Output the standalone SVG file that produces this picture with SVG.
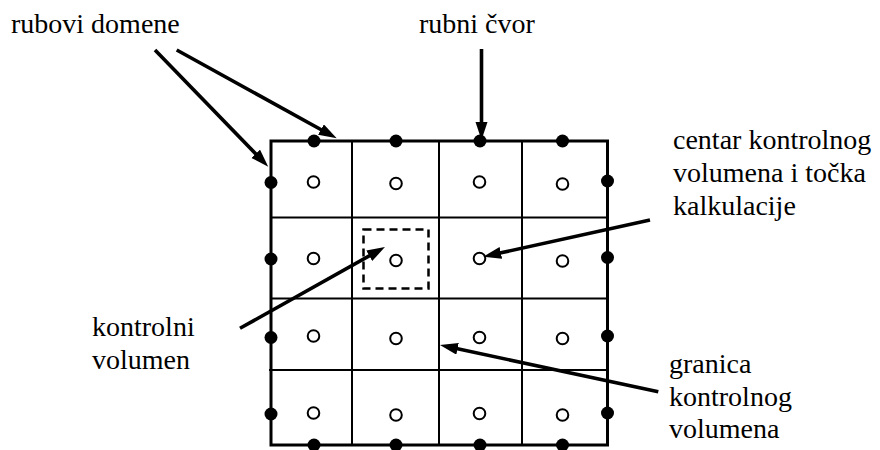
<svg xmlns="http://www.w3.org/2000/svg" width="880" height="450" viewBox="0 0 880 450">
<defs>
<marker id="ah" markerUnits="userSpaceOnUse" markerWidth="20" markerHeight="14" refX="6" refY="6" orient="auto">
<path d="M0,0 L18,6 L0,12 z" fill="#000"/>
</marker>
</defs>
<rect width="880" height="450" fill="#fff"/>
<g id="grid" stroke="#000" fill="none">
<g stroke-width="2">
<line x1="352" y1="141" x2="352" y2="445"/>
<line x1="439" y1="141" x2="439" y2="445"/>
<line x1="522" y1="141" x2="522" y2="445"/>
<line x1="271" y1="217.5" x2="607.5" y2="217.5"/>
<line x1="271" y1="298.5" x2="607.5" y2="298.5"/>
<line x1="269" y1="370" x2="607.5" y2="370"/>
</g>
<rect x="271" y="141" width="336.5" height="304" stroke-width="3"/>
</g>
<g id="control-volume">
<rect x="363.5" y="229.5" width="65" height="59" fill="none" stroke="#000" stroke-width="2.5" stroke-dasharray="8 5"/>
</g>
<g id="boundary-nodes" fill="#000">
<circle cx="314" cy="141" r="6.5"/>
<circle cx="396" cy="141" r="6.5"/>
<circle cx="480" cy="141" r="6.5"/>
<circle cx="562.5" cy="141" r="6.5"/>
<circle cx="314" cy="445" r="6.5"/>
<circle cx="396" cy="445" r="6.5"/>
<circle cx="480" cy="445" r="6.5"/>
<circle cx="562.5" cy="445" r="6.5"/>
<circle cx="271" cy="182.5" r="6.5"/>
<circle cx="271" cy="259" r="6.5"/>
<circle cx="271" cy="337.5" r="6.5"/>
<circle cx="271" cy="414" r="6.5"/>
<circle cx="607.5" cy="181" r="6.5"/>
<circle cx="607.5" cy="257.5" r="6.5"/>
<circle cx="607.5" cy="336" r="6.5"/>
<circle cx="607.5" cy="413" r="6.5"/>
</g>
<g id="cell-centres" fill="#fff" stroke="#000" stroke-width="2">
<circle cx="313.5" cy="182" r="5.8"/>
<circle cx="396" cy="183.5" r="5.8"/>
<circle cx="479.5" cy="182" r="5.8"/>
<circle cx="562.5" cy="184" r="5.8"/>
<circle cx="313.5" cy="258.5" r="5.8"/>
<circle cx="396" cy="260.5" r="5.8"/>
<circle cx="479.5" cy="258.5" r="5.8"/>
<circle cx="562.5" cy="261" r="5.8"/>
<circle cx="313.5" cy="336" r="5.8"/>
<circle cx="396" cy="338.5" r="5.8"/>
<circle cx="479.5" cy="337.5" r="5.8"/>
<circle cx="562.5" cy="338.5" r="5.8"/>
<circle cx="313.5" cy="413" r="5.8"/>
<circle cx="396" cy="415" r="5.8"/>
<circle cx="479.5" cy="413.5" r="5.8"/>
<circle cx="562.5" cy="415" r="5.8"/>
</g>
<g id="connectors" stroke="#000" stroke-width="3.6" fill="none">
<line x1="155" y1="50" x2="259.9" y2="158.1" marker-end="url(#ah)"/>
<line x1="176.7" y1="50" x2="326.2" y2="132.5" marker-end="url(#ah)"/>
<line x1="481.5" y1="49" x2="481.5" y2="128" marker-end="url(#ah)"/>
<line x1="240" y1="328.3" x2="374.5" y2="252.9" marker-end="url(#ah)"/>
<line x1="650" y1="220" x2="495" y2="254.1" marker-end="url(#ah)"/>
<line x1="658.3" y1="391.7" x2="451.7" y2="347.5" marker-end="url(#ah)"/>
</g>
<g id="label-rubovi"><text x="11" y="33" font-family="Liberation Serif" font-size="28" fill="#000">rubovi domene</text></g>
<g id="label-rubni"><text x="419" y="33" font-family="Liberation Serif" font-size="28" fill="#000">rubni čvor</text></g>
<g id="label-centar">
<text x="673" y="149" font-family="Liberation Serif" font-size="28" fill="#000">centar kontrolnog</text>
<text x="673" y="182" font-family="Liberation Serif" font-size="28" fill="#000">volumena i točka</text>
<text x="673" y="215" font-family="Liberation Serif" font-size="28" fill="#000">kalkulacije</text>
</g>
<g id="label-kontrolni">
<text x="92" y="336" font-family="Liberation Serif" font-size="28" fill="#000">kontrolni</text>
<text x="92" y="369" font-family="Liberation Serif" font-size="28" fill="#000">volumen</text>
</g>
<g id="label-granica">
<text x="669" y="373" font-family="Liberation Serif" font-size="28" fill="#000">granica</text>
<text x="669" y="406" font-family="Liberation Serif" font-size="28" fill="#000">kontrolnog</text>
<text x="669" y="438" font-family="Liberation Serif" font-size="28" fill="#000">volumena</text>
</g>
</svg>
